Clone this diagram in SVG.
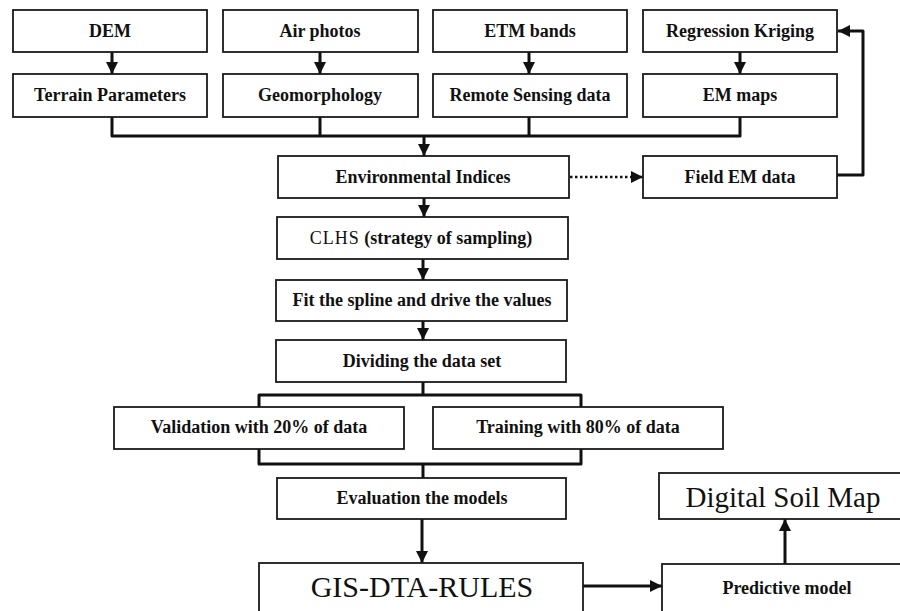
<svg xmlns="http://www.w3.org/2000/svg" width="900" height="611" viewBox="0 0 900 611">
<style>
.box{fill:#fff;stroke:#1a1a1a;stroke-width:1.8}
.t{font-family:"Liberation Serif","Times New Roman",serif;font-weight:bold;font-size:18px;fill:#111;text-anchor:middle}
.big{font-family:"Liberation Serif","Times New Roman",serif;font-weight:normal;fill:#111;text-anchor:middle}
.c{fill:none;stroke:#111;stroke-width:3;stroke-linejoin:round}
.d{fill:none;stroke:#111;stroke-width:2.5;stroke-dasharray:2.5 2.5}
</style>
<defs>
<marker id="ah" markerUnits="userSpaceOnUse" markerWidth="12" markerHeight="12" refX="10" refY="5" orient="auto" viewBox="0 0 10 10">
<path d="M0,0 L10,5 L0,10 Z" fill="#111"/>
</marker>
</defs>
<rect width="900" height="611" fill="#fff"/>
<g id="connectors">
<line class="c" x1="112" y1="52" x2="112" y2="74" marker-end="url(#ah)"/>
<line class="c" x1="320" y1="52" x2="320" y2="74" marker-end="url(#ah)"/>
<line class="c" x1="529" y1="52" x2="529" y2="74" marker-end="url(#ah)"/>
<line class="c" x1="740" y1="52" x2="740" y2="74" marker-end="url(#ah)"/>
<polyline class="c" points="112,117 112,136 740,136 740,117"/>
<line class="c" x1="320" y1="117" x2="320" y2="136"/>
<line class="c" x1="529" y1="117" x2="529" y2="136"/>
<line class="c" x1="424" y1="136" x2="424" y2="156" marker-end="url(#ah)"/>
<line class="d" x1="570" y1="177" x2="643" y2="177" marker-end="url(#ah)"/>
<polyline class="c" points="837,175 863,175 863,31 838,31" marker-end="url(#ah)"/>
<line class="c" x1="424" y1="198" x2="424" y2="217" marker-end="url(#ah)"/>
<line class="c" x1="423" y1="259" x2="423" y2="280" marker-end="url(#ah)"/>
<line class="c" x1="423" y1="321" x2="423" y2="340" marker-end="url(#ah)"/>
<line class="c" x1="423" y1="382" x2="423" y2="395"/>
<polyline class="c" points="259,407 259,395 581,395 581,407"/>
<polyline class="c" points="259,449 259,464 581,464 581,449"/>
<line class="c" x1="423" y1="464" x2="423" y2="478"/>
<line class="c" x1="422" y1="519" x2="422" y2="563" marker-end="url(#ah)"/>
<line class="c" x1="583" y1="586" x2="662" y2="586" marker-end="url(#ah)"/>
<line class="c" x1="785" y1="564" x2="785" y2="519" marker-end="url(#ah)"/>
</g>
<g id="dem"><rect class="box" x="13" y="10" width="194" height="42"/><text class="t" x="110" y="37">DEM</text></g>
<g id="airphotos"><rect class="box" x="223" y="10" width="195" height="42"/><text class="t" x="320" y="37">Air photos</text></g>
<g id="etm"><rect class="box" x="433" y="10" width="194" height="42"/><text class="t" x="530" y="37">ETM bands</text></g>
<g id="rk"><rect class="box" x="643" y="10" width="194" height="42"/><text class="t" x="740" y="37">Regression Kriging</text></g>
<g id="terrain"><rect class="box" x="13" y="74" width="194" height="43"/><text class="t" x="110" y="101">Terrain Parameters</text></g>
<g id="geomorph"><rect class="box" x="223" y="74" width="195" height="43"/><text class="t" x="320" y="101">Geomorphology</text></g>
<g id="rsdata"><rect class="box" x="433" y="74" width="194" height="43"/><text class="t" x="530" y="101">Remote Sensing data</text></g>
<g id="emmaps"><rect class="box" x="643" y="74" width="194" height="43"/><text class="t" x="740" y="101">EM maps</text></g>
<g id="envindices"><rect class="box" x="278" y="156" width="291" height="42"/><text class="t" x="423" y="183">Environmental Indices</text></g>
<g id="fieldem"><rect class="box" x="643" y="156" width="194" height="42"/><text class="t" x="740" y="183">Field EM data</text></g>
<g id="clhs"><rect class="box" x="277" y="217" width="291" height="42"/><text class="t" x="421" y="244"><tspan font-weight="normal" letter-spacing="1">CLHS</tspan> (strategy of sampling)</text></g>
<g id="fitspline"><rect class="box" x="276" y="280" width="291" height="41"/><text class="t" x="422" y="306">Fit the spline and drive the values</text></g>
<g id="dividing"><rect class="box" x="276" y="340" width="290" height="42"/><text class="t" x="422" y="367">Dividing the data set</text></g>
<g id="validation"><rect class="box" x="114" y="407" width="290" height="42"/><text class="t" x="259" y="433">Validation with 20% of data</text></g>
<g id="training"><rect class="box" x="433" y="407" width="290" height="42"/><text class="t" x="578" y="433">Training with 80% of data</text></g>
<g id="evaluation"><rect class="box" x="277" y="478" width="289" height="41"/><text class="t" x="422" y="504" font-size="17">Evaluation the models</text></g>
<g id="gis"><rect class="box" x="259" y="563" width="324" height="54"/><text class="big" x="422" y="597" font-size="30">GIS-DTA-RULES</text></g>
<g id="dsm"><rect class="box" x="659" y="473" width="260" height="46"/><text class="big" x="783" y="507" font-size="29">Digital Soil Map</text></g>
<g id="predictive"><rect class="box" x="662" y="564" width="260" height="54"/><text class="t" x="787" y="594">Predictive model</text></g>
</svg>
